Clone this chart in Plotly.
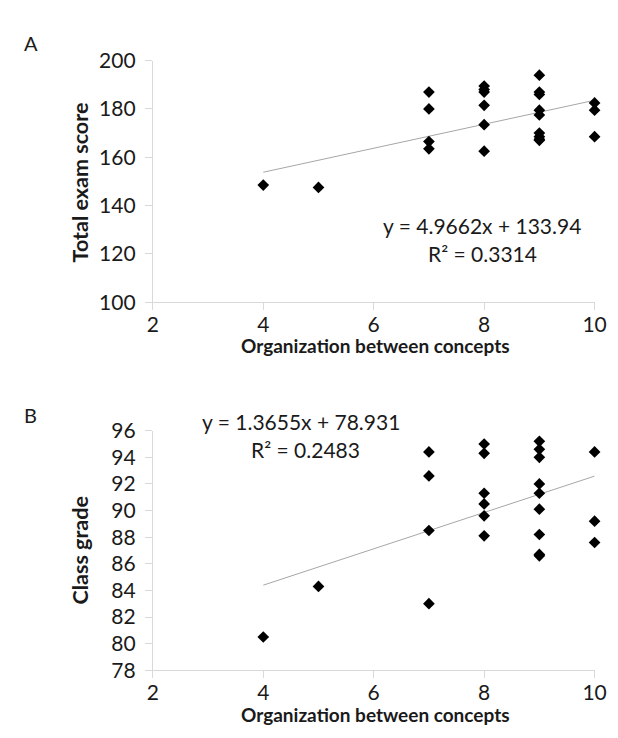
import plotly.graph_objects as go

# Panel A data
orgA = [4, 5, 7, 7, 7, 7, 8, 8, 8, 8, 8, 8, 9, 9, 9, 9, 9, 9, 9, 9, 9, 10, 10, 10]
examA = [148.5, 147.5, 187, 180, 166.5, 163.5, 189.5, 188, 187, 181.5, 173.5, 162.5,
         194, 187, 186, 179.5, 177.5, 170, 168.5, 167.5, 167, 182.5, 179.5, 168.5]
slopeA, interceptA, r2A = 4.9662, 133.94, 0.3314

# Panel B data
orgB = [4, 5, 7, 7, 7, 7, 8, 8, 8, 8, 8, 8, 9, 9, 9, 9, 9, 9, 9, 9, 9, 10, 10, 10]
gradeB = [80.5, 84.3, 94.4, 92.6, 88.5, 83.0, 95.0, 94.3, 91.3, 90.5, 89.6, 88.1,
          95.2, 94.6, 94.0, 92.0, 91.3, 90.1, 88.2, 86.7, 86.6, 94.4, 89.2, 87.6]
slopeB, interceptB, r2B = 1.3655, 78.931, 0.2483

x_ticks = [2, 4, 6, 8, 10]
yA_ticks = [100, 120, 140, 160, 180, 200]
yB_ticks = [78, 80, 82, 84, 86, 88, 90, 92, 94, 96]

FONT = "Lato"
GRID = "#d9d9d9"
TXT = "#1a1a1a"

fig = go.Figure()

def trend(xs, m, b):
    x0, x1 = min(xs), max(xs)
    return [x0, x1], [m * x0 + b, m * x1 + b]

tx, ty = trend(orgA, slopeA, interceptA)
fig.add_trace(go.Scatter(x=tx, y=ty, mode="lines", line=dict(color="#a6a6a6", width=1),
                         xaxis="x", yaxis="y", showlegend=False, hoverinfo="skip"))
fig.add_trace(go.Scatter(x=orgA, y=examA, mode="markers",
                         marker=dict(symbol="diamond", size=9, color="black"),
                         xaxis="x", yaxis="y", showlegend=False, cliponaxis=False))

tx, ty = trend(orgB, slopeB, interceptB)
fig.add_trace(go.Scatter(x=tx, y=ty, mode="lines", line=dict(color="#a6a6a6", width=1),
                         xaxis="x2", yaxis="y2", showlegend=False, hoverinfo="skip"))
fig.add_trace(go.Scatter(x=orgB, y=gradeB, mode="markers",
                         marker=dict(symbol="diamond", size=9, color="black"),
                         xaxis="x2", yaxis="y2", showlegend=False, cliponaxis=False))

W, H = 618, 738
xdom = [143 / W, 598 / W]
yA_dom = [1 - 290 / H, 1 - 40 / H]
yB_dom = [1 - 671 / H, 1 - 423 / H]

axis_common = dict(showgrid=False, zeroline=False, showline=True, linecolor=GRID,
                   linewidth=1, ticks="outside", ticklen=7, tickcolor=GRID,
                   tickfont=dict(family=FONT, size=21, color=TXT))

fig.update_layout(
    width=W, height=H, margin=dict(l=0, r=0, t=0, b=0),
    paper_bgcolor="white", plot_bgcolor="white",
    xaxis=dict(domain=xdom, range=[2, 10], tickvals=x_ticks, anchor="y",
               ticklabelstandoff=-3, **axis_common),
    yaxis=dict(domain=yA_dom, range=[100, 200], tickvals=yA_ticks, anchor="x",
               ticklabelstandoff=5, **axis_common),
    xaxis2=dict(domain=xdom, range=[2, 10], tickvals=x_ticks, anchor="y2",
                ticklabelstandoff=-3, **axis_common),
    yaxis2=dict(domain=yB_dom, range=[78, 96], tickvals=yB_ticks, anchor="x2",
                ticklabelstandoff=5, **axis_common),
)

def ann(text, x, y, size=19, bold=False, angle=0):
    fig.add_annotation(text=f"<b>{text}</b>" if bold else text, x=x / W, y=1 - y / H,
                       xref="paper", yref="paper", showarrow=False, textangle=angle,
                       font=dict(family=FONT, size=size, color=TXT),
                       xanchor="center", yanchor="middle")

ann("A", 17, 22, size=20)
ann("B", 17, 407, size=20)
ann("Total exam score", 68, 166, size=21.5, bold=True, angle=-90)
ann("Class grade", 68, 547, size=21.5, bold=True, angle=-90)
ann("Organization between concepts", 372, 335, size=19, bold=True)
ann("Organization between concepts", 372, 717, size=19, bold=True)
ann(f"y = {slopeA}x + {interceptA}", 482, 211, size=21)
ann(f"R² = {r2A}", 483, 240, size=21)
ann(f"y = {slopeB}x + {interceptB}", 296, 414, size=21)
ann(f"R² = {r2B}", 300, 443, size=21)

fig.write_html("out.html")
